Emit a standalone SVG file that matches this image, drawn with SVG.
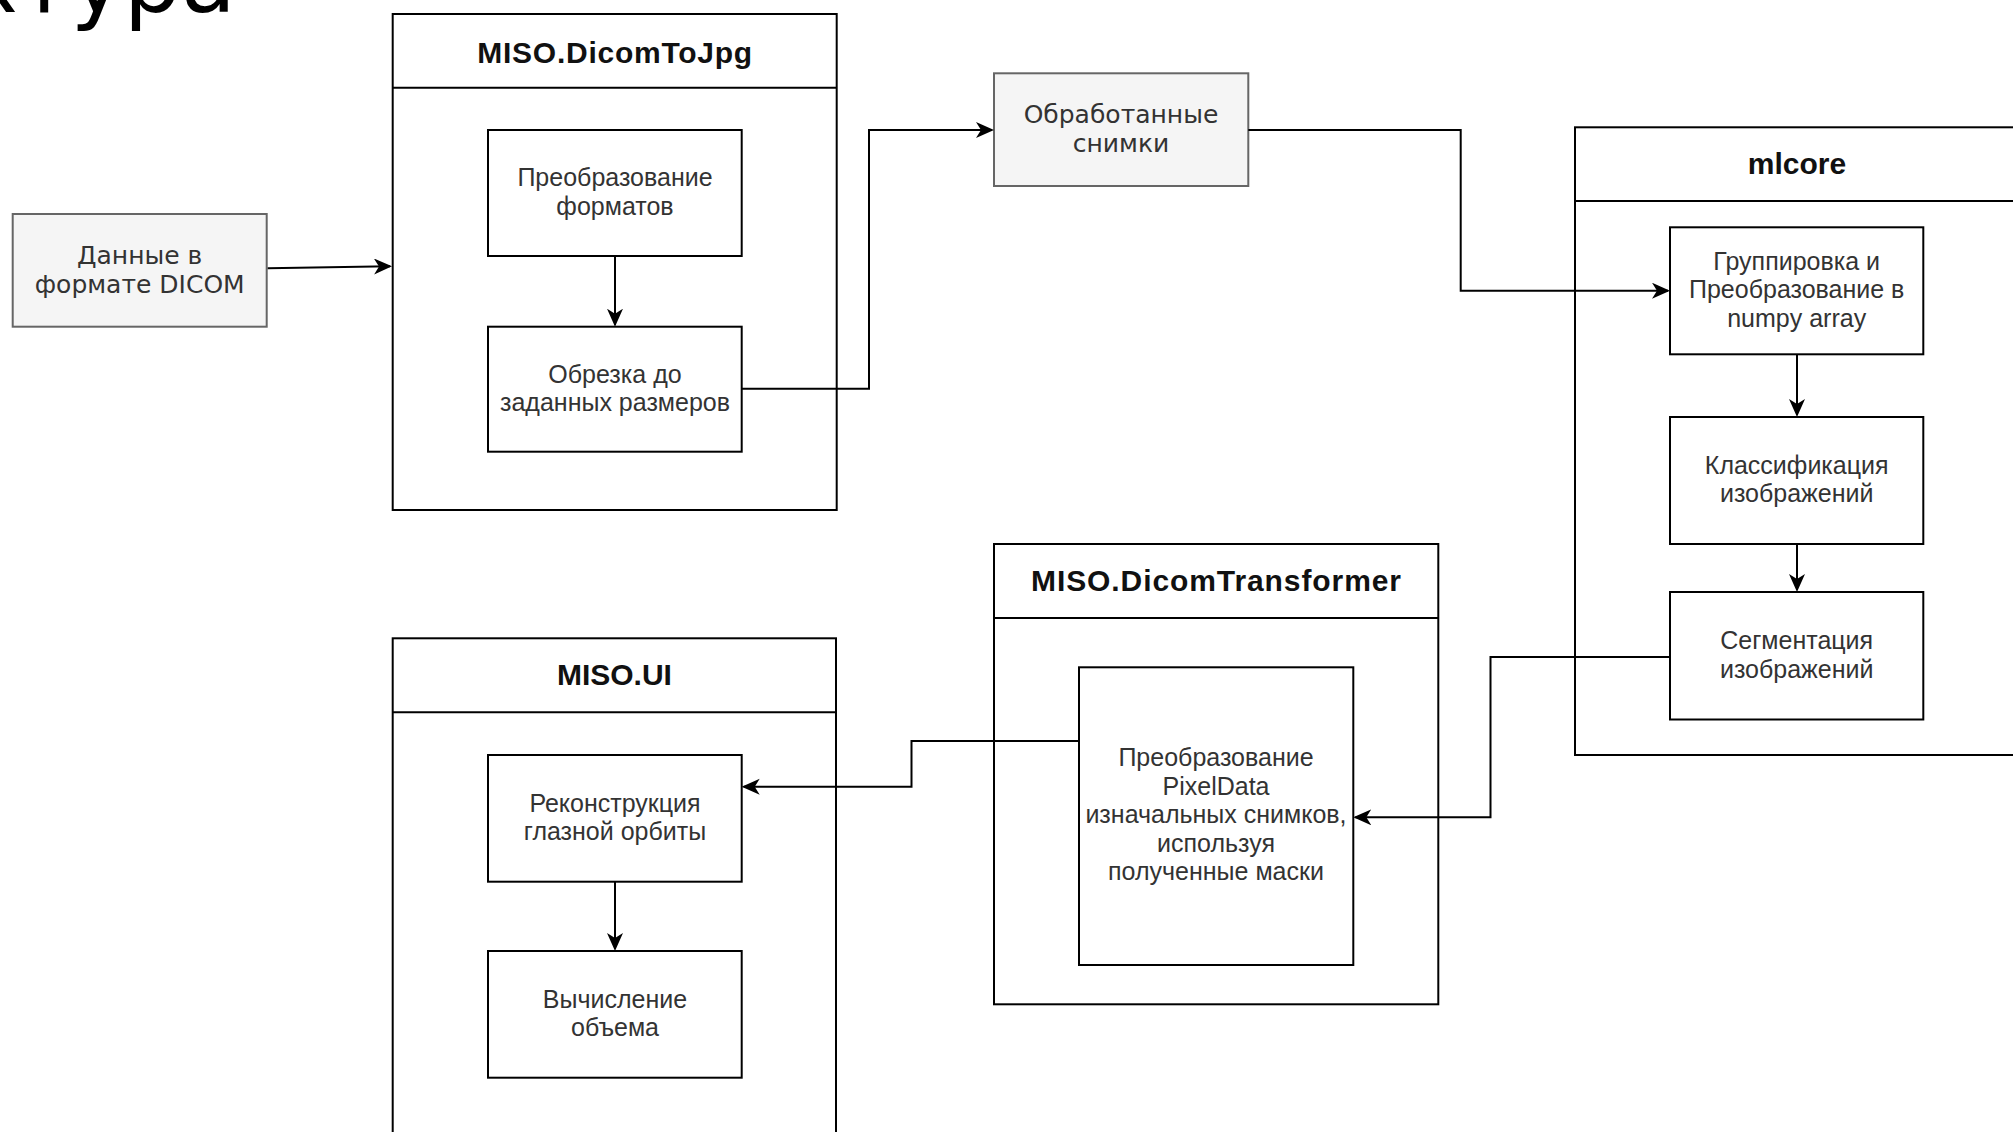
<svg xmlns="http://www.w3.org/2000/svg" width="2013" height="1132" viewBox="0 0 2013 1132">
<style>
.cont{fill:#fff;stroke:#000;stroke-width:2}
.box{fill:#fff;stroke:#000;stroke-width:2}
.gbox{fill:#f5f5f5;stroke:#666;stroke-width:2}
.title{font-family:"Liberation Sans",Arial,sans-serif;font-weight:bold;font-size:30px;fill:#111;text-anchor:middle}
.lbl{font-family:"Liberation Sans",Arial,sans-serif;font-size:25px;fill:#333;text-anchor:middle}
.glbl{font-family:"DejaVu Sans",Verdana,sans-serif;font-size:25px;fill:#333;text-anchor:middle}
.head{font-family:"DejaVu Sans",sans-serif;font-size:90px;fill:#000}
.conn path{fill:none;stroke:#000;stroke-width:2;marker-end:url(#arr)}
</style>
<defs>
<marker id="arr" markerUnits="userSpaceOnUse" markerWidth="22" markerHeight="18" refX="16" refY="8" orient="auto">
<path d="M0,0 L18,8 L0,16 L5,8 Z" fill="#000"/>
</marker>
</defs>
<rect x="0" y="0" width="2013" height="1132" fill="#fff"/>

<text class="head" x="236" y="12" text-anchor="end">ктура</text>

<g id="dicom-data">
<rect class="gbox" x="12.7" y="214" width="254" height="112.7"/>
<text class="glbl" x="139.7" y="264.2">Данные в</text>
<text class="glbl" x="139.7" y="292.6">формате DICOM</text>
</g>

<g id="miso-dicomtojpg">
<rect class="cont" x="392.7" y="14" width="444" height="496"/>
<line x1="392.7" y1="87.7" x2="836.7" y2="87.7" stroke="#000" stroke-width="2"/>
<text class="title" x="614.7" y="63" textLength="275" lengthAdjust="spacing">MISO.DicomToJpg</text>
</g>
<g id="format-convert">
<rect class="box" x="488" y="130" width="253.7" height="126"/>
<text class="lbl" x="615" y="186.3">Преобразование</text>
<text class="lbl" x="615" y="214.8">форматов</text>
</g>
<g id="crop">
<rect class="box" x="488" y="326.7" width="253.7" height="125"/>
<text class="lbl" x="615" y="382.5">Обрезка до</text>
<text class="lbl" x="615" y="411">заданных размеров</text>
</g>

<g id="processed">
<rect class="gbox" x="994" y="73.3" width="254.3" height="112.7"/>
<text class="glbl" x="1121" y="123.3">Обработанные</text>
<text class="glbl" x="1121" y="151.7">снимки</text>
</g>

<g id="mlcore">
<rect class="cont" x="1575" y="127.3" width="444" height="627.7"/>
<line x1="1575" y1="201" x2="2019" y2="201" stroke="#000" stroke-width="2"/>
<text class="title" x="1797" y="174">mlcore</text>
</g>
<g id="grouping">
<rect class="box" x="1670" y="227.3" width="253.3" height="127"/>
<text class="lbl" x="1796.7" y="269.5">Группировка и</text>
<text class="lbl" x="1796.7" y="298">Преобразование в</text>
<text class="lbl" x="1796.7" y="326.5">numpy array</text>
</g>
<g id="classification">
<rect class="box" x="1670" y="417" width="253.3" height="127"/>
<text class="lbl" x="1796.7" y="473.8">Классификация</text>
<text class="lbl" x="1796.7" y="502.3">изображений</text>
</g>
<g id="segmentation">
<rect class="box" x="1670" y="592" width="253.3" height="127.5"/>
<text class="lbl" x="1796.7" y="649">Сегментация</text>
<text class="lbl" x="1796.7" y="677.5">изображений</text>
</g>

<g id="miso-dicomtransformer">
<rect class="cont" x="994" y="544" width="444.3" height="460.3"/>
<line x1="994" y1="618" x2="1438.3" y2="618" stroke="#000" stroke-width="2"/>
<text class="title" x="1216" y="591" textLength="370" lengthAdjust="spacing">MISO.DicomTransformer</text>
</g>
<g id="pixeldata">
<rect class="box" x="1079" y="667.3" width="274.3" height="297.7"/>
<text class="lbl" x="1216" y="766">Преобразование</text>
<text class="lbl" x="1216" y="794.5">PixelData</text>
<text class="lbl" x="1216" y="823">изначальных снимков,</text>
<text class="lbl" x="1216" y="851.5">используя</text>
<text class="lbl" x="1216" y="880">полученные маски</text>
</g>

<g id="miso-ui">
<rect class="cont" x="392.7" y="638.3" width="443.3" height="520"/>
<line x1="392.7" y1="712.3" x2="836" y2="712.3" stroke="#000" stroke-width="2"/>
<text class="title" x="614.4" y="685">MISO.UI</text>
</g>
<g id="reconstruction">
<rect class="box" x="488" y="755" width="253.7" height="126.7"/>
<text class="lbl" x="615" y="811.6">Реконструкция</text>
<text class="lbl" x="615" y="840.1">глазной орбиты</text>
</g>
<g id="volume">
<rect class="box" x="488" y="951" width="253.7" height="126.7"/>
<text class="lbl" x="615" y="1007.6">Вычисление</text>
<text class="lbl" x="615" y="1036.1">объема</text>
</g>

<g id="connectors" class="conn">
<path d="M267.7,268.3 L390,266.3"/>
<path d="M615,256 L615,324.7"/>
<path d="M741.7,388.7 H869 V130 H992"/>
<path d="M1248.3,130 H1460.7 V290.7 H1668"/>
<path d="M1797,354.3 V415"/>
<path d="M1797,544 V590"/>
<path d="M1670,657 H1490.5 V817.3 H1355.3"/>
<path d="M1079,741 H911.5 V786.7 H743.7"/>
<path d="M615,881.7 V949"/>
</g>
</svg>
